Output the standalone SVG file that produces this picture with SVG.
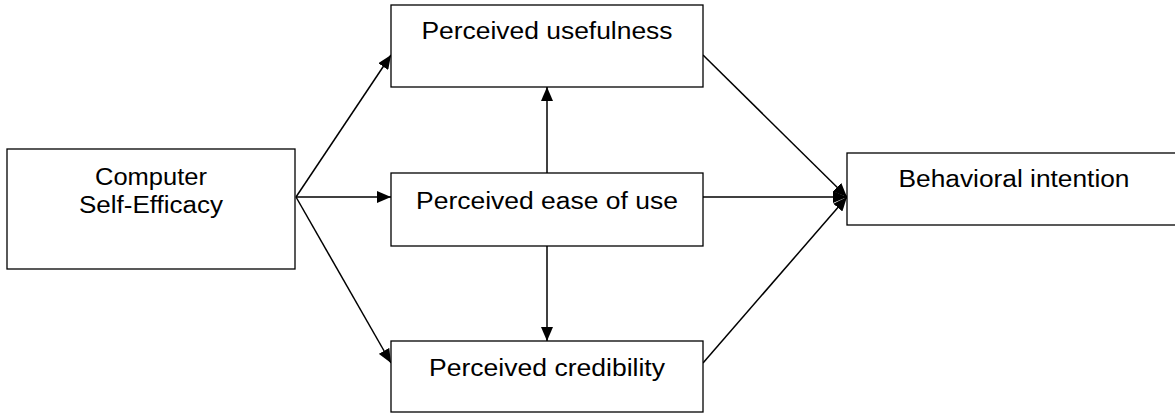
<svg xmlns="http://www.w3.org/2000/svg" width="1175" height="413" viewBox="0 0 1175 413">
<style>
.box{fill:#fff;stroke:#000;stroke-width:1.3}
.lbl{font-family:"Liberation Sans",Arial,sans-serif;font-size:23.5px;fill:#000;text-anchor:middle}
.c{stroke:#000;stroke-width:1.5;fill:none}
</style>
<defs>
<marker id="ah" markerUnits="userSpaceOnUse" markerWidth="15" markerHeight="12" refX="14" refY="6" orient="auto">
<path d="M0,0 L14,6 L0,12 z" fill="#000"/>
</marker>
</defs>
<rect width="1175" height="413" fill="#fff"/>
<g id="connectors">
<line class="c" x1="296" y1="197" x2="391" y2="55" marker-end="url(#ah)"/>
<line class="c" x1="296" y1="197" x2="391" y2="197" marker-end="url(#ah)"/>
<line class="c" x1="296" y1="197" x2="391" y2="363" marker-end="url(#ah)"/>
<line class="c" x1="547" y1="173" x2="547" y2="87" marker-end="url(#ah)"/>
<line class="c" x1="547" y1="246" x2="547" y2="341" marker-end="url(#ah)"/>
<line class="c" x1="703" y1="55" x2="847" y2="197" marker-end="url(#ah)"/>
<line class="c" x1="703" y1="197" x2="847" y2="197" marker-end="url(#ah)"/>
<line class="c" x1="703" y1="363" x2="847" y2="197" marker-end="url(#ah)"/>
</g>
<g id="cse">
<rect class="box" x="7" y="149" width="288" height="120"/>
<text class="lbl" x="151" y="185" textLength="112" lengthAdjust="spacingAndGlyphs">Computer</text>
<text class="lbl" x="151" y="213" textLength="144" lengthAdjust="spacingAndGlyphs">Self-Efficacy</text>
</g>
<g id="pu">
<rect class="box" x="391" y="5" width="312" height="82"/>
<text class="lbl" x="547" y="39" textLength="251" lengthAdjust="spacingAndGlyphs">Perceived usefulness</text>
</g>
<g id="peou">
<rect class="box" x="391" y="173" width="312" height="73"/>
<text class="lbl" x="547" y="209" textLength="262" lengthAdjust="spacingAndGlyphs">Perceived ease of use</text>
</g>
<g id="pc">
<rect class="box" x="391" y="341" width="312" height="71"/>
<text class="lbl" x="547" y="376" textLength="236" lengthAdjust="spacingAndGlyphs">Perceived credibility</text>
</g>
<g id="bi">
<rect class="box" x="847" y="153" width="340" height="72"/>
<text class="lbl" x="1014" y="187" textLength="231" lengthAdjust="spacingAndGlyphs">Behavioral intention</text>
</g>
</svg>
